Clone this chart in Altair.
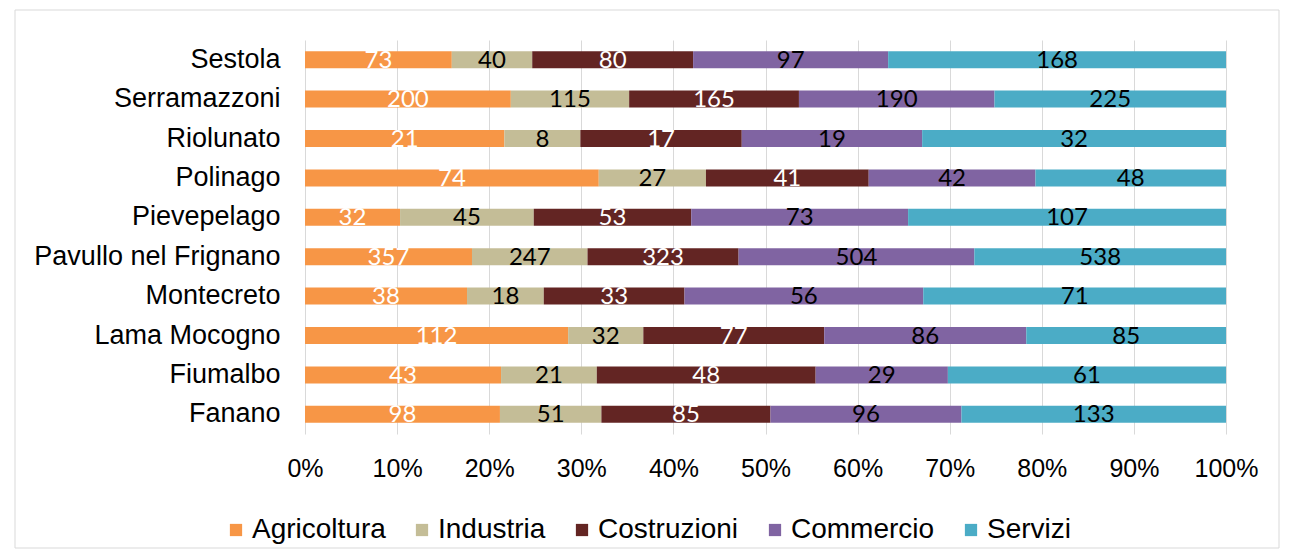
import altair as alt
import pandas as pd

comuni = ["Sestola", "Serramazzoni", "Riolunato", "Polinago", "Pievepelago",
          "Pavullo nel Frignano", "Montecreto", "Lama Mocogno", "Fiumalbo", "Fanano"]
settori = ["Agricoltura", "Industria", "Costruzioni", "Commercio", "Servizi"]
agricoltura = [73, 200, 21, 74, 32, 357, 38, 112, 43, 98]
industria = [40, 115, 8, 27, 45, 247, 18, 32, 21, 51]
costruzioni = [80, 165, 17, 41, 53, 323, 33, 77, 48, 85]
commercio = [97, 190, 19, 42, 73, 504, 56, 86, 29, 96]
servizi = [168, 225, 32, 48, 107, 538, 71, 85, 61, 133]
colori = ["#F79646", "#C4BD97", "#632523", "#8064A2", "#4BACC6"]
colori_testo = ["white", "black", "white", "black", "black"]

serie = [agricoltura, industria, costruzioni, commercio, servizi]
rows = []
for si, (s, vals) in enumerate(zip(settori, serie)):
    for c, v in zip(comuni, vals):
        rows.append({"comune": c, "settore": s, "ordine": si, "valore": v,
                     "tcol": colori_testo[si]})
df = pd.DataFrame(rows)

base = alt.Chart(df).transform_stack(
    stack="valore", groupby=["comune"], sort=[alt.SortField("ordine")],
    as_=["x0", "x1"], offset="normalize"
).transform_calculate(mid="(datum.x0 + datum.x1) / 2")

bars = base.mark_bar(size=17).encode(
    y=alt.Y("comune:N", sort=comuni, title=None),
    x=alt.X("x0:Q", scale=alt.Scale(domain=[0, 1], nice=False), title=None,
            axis=alt.Axis(format="%", values=[i / 10 for i in range(11)])),
    x2="x1:Q",
    color=alt.Color("settore:N", sort=settori,
                    scale=alt.Scale(domain=settori, range=colori),
                    legend=alt.Legend(orient="none", direction="horizontal",
                                      legendX=-83, legendY=476, title=None)),
    order=alt.Order("ordine:Q"),
)

labels = base.mark_text(font="Lato", fontSize=24, baseline="middle", dy=1).encode(
    y=alt.Y("comune:N", sort=comuni),
    x="mid:Q",
    text="valore:Q",
    color=alt.Color("tcol:N", scale=None),
)

frame = alt.Chart(pd.DataFrame({"a": [0]})).mark_rect(
    fill=None, stroke="#D9D9D9", strokeWidth=1
).encode(x=alt.value(-290), x2=alt.value(974), y=alt.value(-30), y2=alt.value(508))

chart = alt.layer(frame, bars, labels).properties(
    width=921, height=394,
    autosize=alt.AutoSizeParams(type="none"),
    padding={"left": 297, "top": 32, "right": 55, "bottom": 115},
).configure_view(stroke=None).configure_axisY(
    labelFont="Liberation Sans", labelFontSize=27, labelColor="black",
    ticks=False, domain=False, labelPadding=25, labelLimit=500, grid=False
).configure_axisX(
    labelFont="Liberation Sans", labelFontSize=25, labelColor="black",
    ticks=False, domain=False, labelPadding=22, labelFlush=False,
    grid=True, gridColor="#D9D9D9", gridWidth=1
).configure_legend(
    symbolType="square", symbolSize=150, symbolStrokeWidth=0,
    labelFont="Liberation Sans", labelFontSize=28, labelColor="black",
    columnPadding=22, labelOffset=2, labelLimit=500
)

chart.save("out.html", embed_options={"renderer": "svg", "actions": False})
